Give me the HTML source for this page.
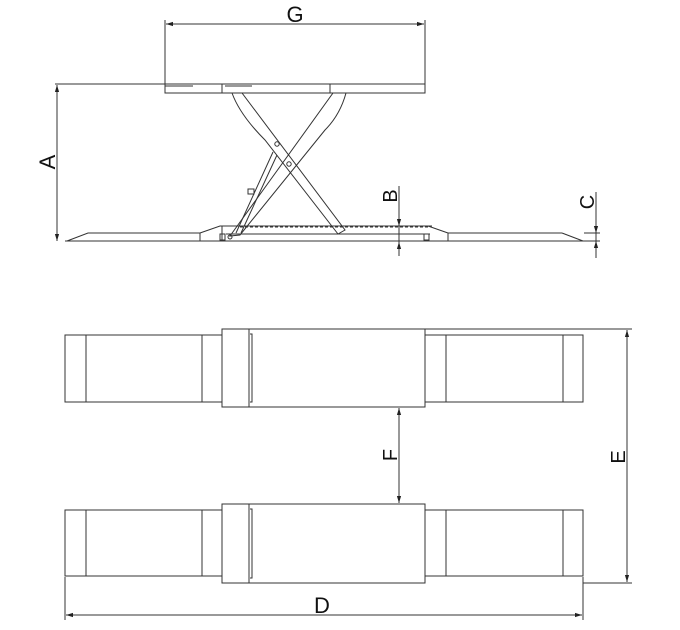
<!DOCTYPE html>
<html><head><meta charset="utf-8"><style>
html,body{margin:0;padding:0;background:#fff;width:680px;height:630px;overflow:hidden}
svg{display:block}
text{font-family:"Liberation Sans",sans-serif;fill:#111}
</style></head><body>
<svg width="680" height="630" viewBox="0 0 680 630" xmlns="http://www.w3.org/2000/svg">
<defs>
<marker id="ar" viewBox="0 0 10 10" refX="10" refY="5" markerWidth="7" markerHeight="7" orient="auto-start-reverse"><path d="M0,2 L10,5 L0,8 z" fill="#222"/></marker>
</defs>
<g fill="none" stroke="#333" stroke-width="1">
<!-- G dim -->
<line x1="165" y1="20" x2="165" y2="84"/><line x1="425" y1="20" x2="425" y2="84"/>
<line x1="166" y1="24" x2="424" y2="24" marker-start="url(#ar)" marker-end="url(#ar)"/>
<!-- A dim -->
<line x1="55" y1="84" x2="165" y2="84"/>
<line x1="57" y1="85" x2="57" y2="241" marker-start="url(#ar)" marker-end="url(#ar)"/>
<!-- table -->
<rect x="165" y="84" width="260" height="9"/>
<line x1="222" y1="84" x2="222" y2="93"/><line x1="330" y1="84" x2="330" y2="93"/>
<line x1="165" y1="86" x2="193" y2="86"/><line x1="225" y1="86" x2="252" y2="86"/>
<!-- scissors -->
<path d="M232,93 L242,93 L345,230 L338,234 L265,140 Q240,115 232,93 Z"/>
<path d="M333,93 L346,93 Q340,115 325,130 L240,235 L230,236 Z"/>
<line x1="273" y1="152" x2="236" y2="233"/><line x1="277" y1="155" x2="241" y2="233"/>
<rect x="248" y="189" width="6" height="5"/>
<circle cx="277" cy="144" r="2.2"/><circle cx="289" cy="164" r="2.2"/><circle cx="230" cy="237" r="2"/>
<!-- base -->
<line x1="65" y1="241" x2="600" y2="241"/>
<polyline points="67,241 88,233 200,233 200,241"/>
<polyline points="200,233 220,226 432,226"/>
<line x1="222" y1="226" x2="222" y2="241"/>
<line x1="226" y1="234" x2="430" y2="234"/>
<line x1="240" y1="227" x2="430" y2="227" stroke-dasharray="3,2"/>
<rect x="220" y="234" width="5" height="6"/><rect x="424" y="234" width="5" height="6"/>
<polyline points="428,226 448,233 448,241"/>
<line x1="448" y1="233" x2="562" y2="233"/>
<line x1="562" y1="233" x2="583" y2="241"/>
<!-- B dim -->
<line x1="399" y1="186" x2="399" y2="256"/>
<line x1="399" y1="218" x2="399" y2="226" marker-end="url(#ar)"/>
<line x1="399" y1="250" x2="399" y2="242" marker-end="url(#ar)"/>
<!-- C dim -->
<line x1="584" y1="233" x2="600" y2="233"/>
<line x1="596" y1="192" x2="596" y2="258"/>
<line x1="596" y1="224" x2="596" y2="233" marker-end="url(#ar)"/>
<line x1="596" y1="250" x2="596" y2="241" marker-end="url(#ar)"/>
<!-- top view upper -->
<rect x="65" y="335" width="157" height="67"/>
<line x1="86" y1="335" x2="86" y2="402"/><line x1="202" y1="335" x2="202" y2="402"/>
<rect x="222" y="329" width="203" height="78"/>
<line x1="249" y1="329" x2="249" y2="407"/>
<polyline points="250,334 252,334 252,402 250,402"/>
<rect x="425" y="335" width="158" height="67"/>
<line x1="446" y1="335" x2="446" y2="402"/><line x1="563" y1="335" x2="563" y2="402"/>
<!-- lower -->
<rect x="65" y="510" width="157" height="66"/>
<line x1="86" y1="510" x2="86" y2="576"/><line x1="202" y1="510" x2="202" y2="576"/>
<rect x="222" y="504" width="203" height="79"/>
<line x1="249" y1="504" x2="249" y2="583"/>
<polyline points="250,509 252,509 252,578 250,578"/>
<rect x="425" y="510" width="158" height="66"/>
<line x1="446" y1="510" x2="446" y2="576"/><line x1="563" y1="510" x2="563" y2="576"/>
<!-- F -->
<line x1="399" y1="408" x2="399" y2="503" marker-start="url(#ar)" marker-end="url(#ar)"/>
<!-- E -->
<line x1="425" y1="329" x2="632" y2="329"/><line x1="583" y1="583" x2="632" y2="583"/>
<line x1="627" y1="330" x2="627" y2="582" marker-start="url(#ar)" marker-end="url(#ar)"/>
<!-- D -->
<line x1="65" y1="577" x2="65" y2="620"/><line x1="583" y1="577" x2="583" y2="620"/>
<line x1="66" y1="615" x2="582" y2="615" marker-start="url(#ar)" marker-end="url(#ar)"/>
</g>
<text x="295" y="22" font-size="22" text-anchor="middle">G</text>
<text x="322" y="613" font-size="22" text-anchor="middle">D</text>
<text transform="translate(55,162) rotate(-90)" font-size="22" text-anchor="middle">A</text>
<text transform="translate(397,196) rotate(-90)" font-size="20" text-anchor="middle">B</text>
<text transform="translate(594,202) rotate(-90)" font-size="20" text-anchor="middle">C</text>
<text transform="translate(397,455) rotate(-90)" font-size="20" text-anchor="middle">F</text>
<text transform="translate(625,457) rotate(-90)" font-size="20" text-anchor="middle">E</text>
</svg>
</body></html>
